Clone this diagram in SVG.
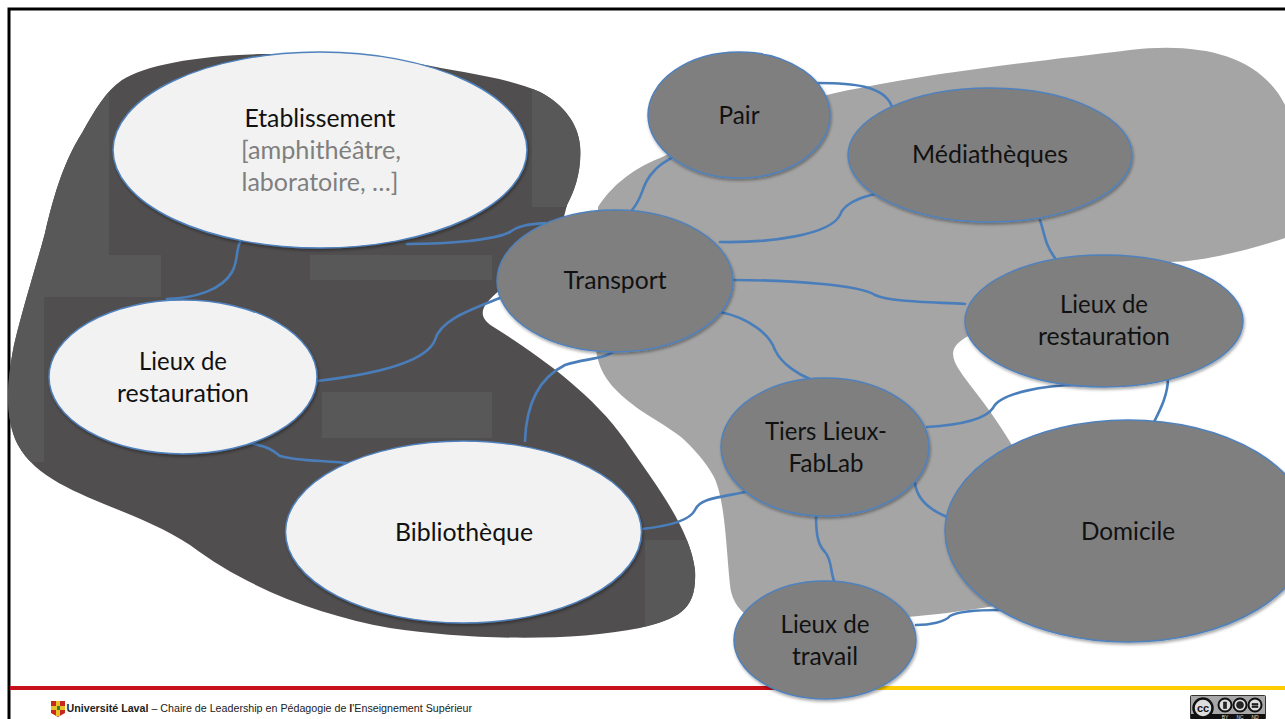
<svg xmlns="http://www.w3.org/2000/svg" width="1285" height="719" viewBox="0 0 1285 719">
<style>
.n{stroke:#4f81bd;stroke-width:1.5;filter:url(#sh)}
.d{fill:#7f7f7f}
.l{fill:#f2f2f2}
.c{fill:none;stroke:#4a7ebb;stroke-width:2.6;stroke-linecap:round}
text{font-family:"Lato","Carlito","Open Sans",sans-serif;font-size:25px;fill:#111;text-anchor:middle}
.g{fill:#7f7f7f}
.f{font-family:"Liberation Sans",Arial,sans-serif;font-size:10.7px;text-anchor:start;fill:#222}
.b{font-family:"Liberation Sans",sans-serif;font-size:5px;fill:#ddd}
</style>
<defs>
<filter id="sh" x="-5%" y="-5%" width="110%" height="112%"><feDropShadow dx="1" dy="2" stdDeviation="1.5" flood-color="#000" flood-opacity=".35"/></filter>
<clipPath id="dk"><path id="dkp" d="M265 54C320 54 375 58 420 64C460 72 510 78 540 92C565 105 578 125 580 145C582 170 575 190 567 205L560 232L500 290C482 305 476 315 492 326C530 350 590 390 625 440C660 490 690 530 695 570C697 610 680 618 640 628C570 642 470 640 390 628C320 615 250 590 190 545C130 505 45 495 18 445C5 420 6 385 14 345C25 300 35 270 45 233C55 190 65 160 82 133C95 110 105 92 122 80C145 65 200 55 265 54Z"/></clipPath>
</defs>
<rect width="1285" height="719" fill="#fff"/>
<path d="M9 719V9H1285" fill="none" stroke="#000" stroke-width="3"/>
<g id="background">
<path d="M598 207C610 188 630 170 660 158C720 130 790 100 860 88C950 70 1050 60 1130 50C1200 42 1260 55 1285 105V238C1250 250 1200 262 1170 262C1080 290 990 320 962 340C945 352 955 365 970 385C990 410 1003 430 1015 450L1000 605C960 612 930 615 907 617C880 628 800 628 770 625C745 620 732 605 730 585C726 545 725 500 714 477C705 460 690 445 681 437C665 425 655 420 640 410C620 395 600 380 596 350Z" fill="#a5a5a5"/>
<use href="#dkp" fill="#514e4f"/>
<g clip-path="url(#dk)" fill="#595858">
<rect x="0" y="50" width="109" height="205"/>
<rect x="0" y="255" width="161" height="42"/>
<rect x="0" y="297" width="44" height="165"/>
<rect x="310" y="255" width="182" height="25"/>
<rect x="532" y="85" width="60" height="122"/>
<rect x="322" y="392" width="170" height="46"/>
<rect x="645" y="540" width="60" height="100"/>
</g>
</g>
<g id="connectors">
<path class="c" d="M407 244C450 244 495 240 510 232C520 224 535 224 545 223"/>
<path class="c" d="M240 242C236 250 238 262 232 272C222 290 195 298 167 299"/>
<path class="c" d="M317 381C360 376 425 365 435 340C440 320 470 310 500 298"/>
<path class="c" d="M250 443C270 447 275 452 280 456C300 462 330 460 352 464"/>
<path class="c" d="M525 441C526 410 535 380 565 365C585 358 605 360 615 350"/>
<path class="c" d="M642 529C670 526 690 520 695 510C700 497 725 497 750 491"/>
<path class="c" d="M632 210C645 195 640 185 655 170C662 162 670 160 675 155"/>
<path class="c" d="M720 242C770 243 830 235 840 215C845 200 870 195 880 193"/>
<path class="c" d="M733 280C790 280 860 285 875 295C890 302 930 302 965 304"/>
<path class="c" d="M720 312C750 318 770 335 775 350C782 365 800 375 810 379"/>
<path class="c" d="M818 83C850 83 885 85 892 107"/>
<path class="c" d="M1040 220C1045 235 1045 245 1055 258"/>
<path class="c" d="M927 427C960 425 985 420 993 408C1000 393 1045 385 1078 385"/>
<path class="c" d="M1168 378C1168 395 1160 410 1154 422"/>
<path class="c" d="M915 483C917 500 930 510 947 517"/>
<path class="c" d="M816 515C816 535 818 545 825 552C832 560 830 570 834 581"/>
<path class="c" d="M916 625C930 625 945 622 950 616C960 610 985 610 1000 610"/>
</g>
<g id="etablissement"><ellipse class="n l" cx="320" cy="150" rx="207" ry="98"/>
<text x="320" y="127" textLength="151" lengthAdjust="spacingAndGlyphs">Etablissement</text>
<text class="g" x="321" y="159" textLength="160" lengthAdjust="spacingAndGlyphs">[amphithéâtre,</text>
<text class="g" x="320" y="191" textLength="157" lengthAdjust="spacingAndGlyphs">laboratoire, …]</text></g>
<g id="lieux-restauration-1"><ellipse class="n l" cx="183" cy="377" rx="134" ry="77"/>
<text x="183" y="370" textLength="88" lengthAdjust="spacingAndGlyphs">Lieux de</text>
<text x="183" y="402" textLength="132" lengthAdjust="spacingAndGlyphs">restauration</text></g>
<g id="bibliotheque"><ellipse class="n l" cx="463.500" cy="532" rx="178" ry="91"/>
<text x="464" y="541" textLength="138" lengthAdjust="spacingAndGlyphs">Bibliothèque</text></g>
<g id="transport"><ellipse class="n d" cx="615" cy="281" rx="118" ry="71"/>
<text x="615" y="289" textLength="103" lengthAdjust="spacingAndGlyphs">Transport</text></g>
<g id="pair"><ellipse class="n d" cx="739" cy="115" rx="91" ry="63"/>
<text x="739" y="124" textLength="41" lengthAdjust="spacingAndGlyphs">Pair</text></g>
<g id="mediatheques"><ellipse class="n d" cx="990" cy="155" rx="142" ry="67"/>
<text x="990" y="163" textLength="156" lengthAdjust="spacingAndGlyphs">Médiathèques</text></g>
<g id="lieux-restauration-2"><ellipse class="n d" cx="1104" cy="321" rx="139" ry="66"/>
<text x="1104" y="313" textLength="88" lengthAdjust="spacingAndGlyphs">Lieux de</text>
<text x="1104" y="345" textLength="132" lengthAdjust="spacingAndGlyphs">restauration</text></g>
<g id="tiers-lieux"><ellipse class="n d" cx="825" cy="447" rx="104" ry="69"/>
<text x="826" y="440" textLength="122" lengthAdjust="spacingAndGlyphs">Tiers Lieux-</text>
<text x="826" y="472" textLength="75" lengthAdjust="spacingAndGlyphs">FabLab</text></g>
<g id="domicile"><ellipse class="n d" cx="1128" cy="531" rx="183" ry="111"/>
<text x="1128" y="540" textLength="94" lengthAdjust="spacingAndGlyphs">Domicile</text></g>
<g id="footer">
<rect x="10" y="686" width="765" height="4" fill="#c8101a"/>
<rect x="775" y="686" width="510" height="4" fill="#ffcc00"/>
</g>
<g id="lieux-travail"><ellipse class="n d" cx="825" cy="640" rx="91" ry="59"/>
<text x="825" y="633" textLength="89" lengthAdjust="spacingAndGlyphs">Lieux de</text>
<text x="825" y="665" textLength="66" lengthAdjust="spacingAndGlyphs">travail</text></g>
<g id="logo">
<path d="M51 701H65V713L58 717L51 713Z" fill="#c8281e"/>
<path d="M56 701H60V716H56ZM51 706H65V710H51Z" fill="#e6c22a"/>
<rect x="57" y="706" width="3" height="4" fill="#3c7a3c"/>
</g>
<text class="f" x="66.500" y="712"><tspan font-weight="700">Université Laval</tspan> – Chaire de Leadership en Pédagogie de <tspan font-weight="700">l</tspan>'Enseignement Supérieur</text>
<g id="cc-badge">
<rect x="1190.500" y="695.500" width="75" height="24" rx="1" fill="#a8a8a8" stroke="#333"/>
<rect x="1191" y="714" width="74" height="5" fill="#111"/>
<circle cx="1203" cy="708" r="9.500" fill="#ddd" stroke="#111" stroke-width="2.500"/>
<circle cx="1225" cy="705" r="6.500" fill="#ddd" stroke="#111" stroke-width="2"/>
<circle cx="1240" cy="705" r="6.500" fill="#ddd" stroke="#111" stroke-width="2"/>
<circle cx="1255" cy="705" r="6.500" fill="#ddd" stroke="#111" stroke-width="2"/>
<path d="M1223.500 702h3v6.500h-3zM1236.500 705a3.500 3.500 0 0 1 7 0M1243.500 705a3.500 3.500 0 0 1-7 0M1252 703.500h6v1.500h-6zM1252 706h6v1.500h-6z" fill="#111" stroke="#111" stroke-width=".6" fill-opacity=".9"/>
<text x="1203" y="712" style="font-family:'Liberation Sans',sans-serif;font-size:11px;font-weight:700">cc</text>
<text class="b" x="1225" y="719">BY</text>
<text class="b" x="1240" y="719">NC</text>
<text class="b" x="1255" y="719">ND</text>
</g>
</svg>
